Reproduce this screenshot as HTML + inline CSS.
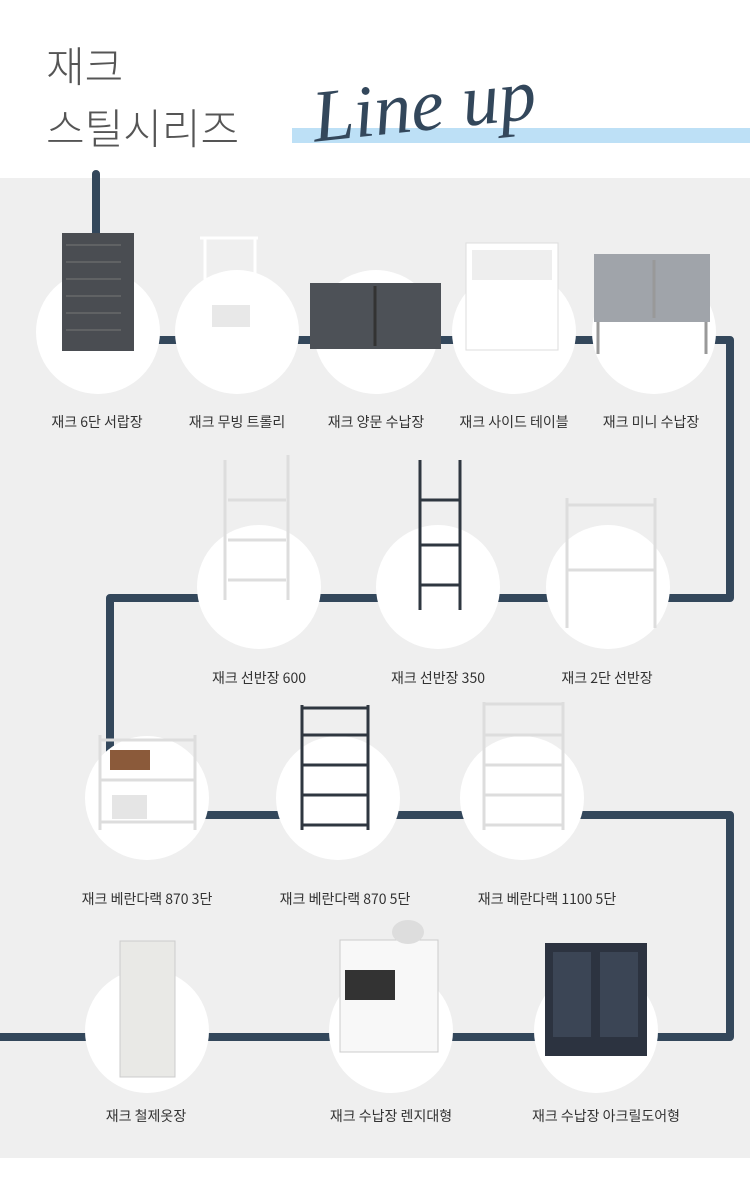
<!DOCTYPE html>
<html><head><meta charset="utf-8"><style>
body{margin:0;width:750px;height:1196px;background:#fff;position:relative;overflow:hidden;font-family:"Liberation Sans","Noto Sans CJK KR",sans-serif}
.bg{position:absolute;left:0;top:178px;width:750px;height:980px;background:#efefef}
.t{position:absolute;left:46px;color:#555;font-size:42px;font-weight:200;font-family:"Noto Sans CJK KR",sans-serif;line-height:1}
.l{position:absolute;font-size:14px;color:#333;text-align:center;width:200px;margin-left:-100px;font-family:"Noto Sans CJK KR",sans-serif}
.c{position:absolute;width:124px;height:124px;border-radius:50%;background:#fff;margin:-62px 0 0 -62px}
svg{position:absolute;left:0;top:0}
</style></head><body>
<div class="bg"></div>
<div style="position:absolute;left:292px;top:128px;width:458px;height:15px;background:#bde0f6"></div>
<div class="t" style="top:44px">재크</div>
<div class="t" style="top:106px">스틸시리즈</div>
<div style="position:absolute;left:312px;top:64px;font-family:'Liberation Serif',serif;font-style:italic;font-size:74px;color:#33475b;transform:rotate(-6deg)">Line up</div>
<svg width="750" height="1196">
<path d="M96 174 V340 H730 V598 H110 V815 H730 V1037 H0" fill="none" stroke="#33475b" stroke-width="8" stroke-linejoin="round" stroke-linecap="round"/>
</svg>
<div class="c" style="left:98px;top:332px"></div><div class="c" style="left:237px;top:332px"></div><div class="c" style="left:376px;top:332px"></div><div class="c" style="left:514px;top:332px"></div><div class="c" style="left:654px;top:332px"></div>
<div class="c" style="left:259px;top:587px"></div><div class="c" style="left:438px;top:587px"></div><div class="c" style="left:608px;top:587px"></div>
<div class="c" style="left:147px;top:798px"></div><div class="c" style="left:338px;top:798px"></div><div class="c" style="left:522px;top:798px"></div>
<div class="c" style="left:147px;top:1031px"></div><div class="c" style="left:391px;top:1031px"></div><div class="c" style="left:596px;top:1031px"></div>
<svg width="750" height="1196" fill="none" stroke-width="3">
<rect x="62" y="233" width="72" height="118" fill="#4a4d52"/>
<g stroke="#777" stroke-width="1"><path d="M66 245h55M66 262h55M66 279h55M66 296h55M66 313h55M66 330h55"/></g>
<g stroke="#fff"><path d="M200 238h58M200 285h58M200 318h58M205 238v105M255 238v105"/></g>
<rect x="212" y="305" width="38" height="22" fill="#e8e8e8"/>
<rect x="310" y="283" width="131" height="66" fill="#4d5157"/><path d="M375 286v60" stroke="#333"/>
<rect x="466" y="243" width="92" height="107" fill="#fff" stroke="#ddd" stroke-width="1"/><rect x="472" y="250" width="80" height="30" fill="#eee"/>
<rect x="594" y="254" width="116" height="68" fill="#a0a4aa"/><path d="M598 322v32M706 322v32M654 260v58" stroke="#999"/>
<g stroke="#ddd"><path d="M225 460v140M288 455v145M228 500h58M228 540h58M228 580h58"/></g>
<g stroke="#2f3740"><path d="M420 460v150M460 460v150M420 500h40M420 545h40M420 585h40"/></g>
<g stroke="#ddd"><path d="M567 498v130M655 498v130M567 505h88M567 570h88"/></g>
<g stroke="#ddd"><path d="M100 735v95M195 735v95M100 740h95M100 780h95M100 822h95"/></g>
<rect x="110" y="750" width="40" height="20" fill="#8b5a3a"/><rect x="112" y="795" width="35" height="24" fill="#e5e5e5"/>
<g stroke="#2f3740"><path d="M302 705v125M368 705v125M302 708h66M302 735h66M302 765h66M302 795h66M302 825h66"/></g>
<g stroke="#ddd"><path d="M484 702v128M563 702v128M484 704h79M484 735h79M484 765h79M484 795h79M484 825h79"/></g>
<rect x="120" y="941" width="55" height="136" fill="#e9e9e6" stroke="#ccc" stroke-width="1"/>
<rect x="340" y="940" width="98" height="112" fill="#f8f8f8" stroke="#ccc" stroke-width="1"/><rect x="345" y="970" width="50" height="30" fill="#333"/>
<ellipse cx="408" cy="932" rx="16" ry="12" fill="#ddd"/>
<rect x="545" y="943" width="102" height="113" fill="#2c3340"/><rect x="553" y="952" width="38" height="85" fill="#3b4555"/><rect x="600" y="952" width="38" height="85" fill="#3b4555"/>
</svg>
<div class="l" style="left:97px;top:412px">재크 6단 서랍장</div>
<div class="l" style="left:237px;top:412px">재크 무빙 트롤리</div>
<div class="l" style="left:376px;top:412px">재크 양문 수납장</div>
<div class="l" style="left:514px;top:412px">재크 사이드 테이블</div>
<div class="l" style="left:651px;top:412px">재크 미니 수납장</div>
<div class="l" style="left:259px;top:668px">재크 선반장 600</div>
<div class="l" style="left:438px;top:668px">재크 선반장 350</div>
<div class="l" style="left:607px;top:668px">재크 2단 선반장</div>
<div class="l" style="left:147px;top:889px">재크 베란다랙 870 3단</div>
<div class="l" style="left:345px;top:889px">재크 베란다랙 870 5단</div>
<div class="l" style="left:547px;top:889px">재크 베란다랙 1100 5단</div>
<div class="l" style="left:146px;top:1106px">재크 철제옷장</div>
<div class="l" style="left:391px;top:1106px">재크 수납장 렌지대형</div>
<div class="l" style="left:606px;top:1106px">재크 수납장 아크릴도어형</div>
</body></html>
